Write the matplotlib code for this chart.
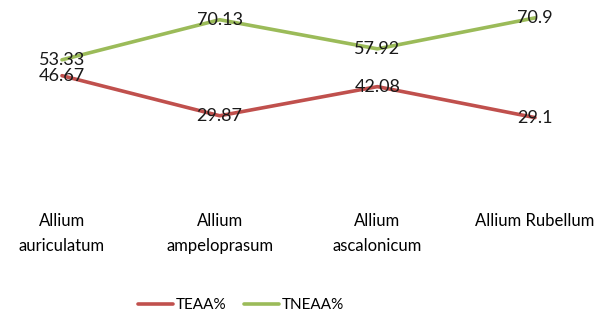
import numpy as np
import matplotlib
matplotlib.use("Agg")
import matplotlib.pyplot as plt

categories = ['Allium\nauriculatum', 'Allium\nampeloprasum', 'Allium\nascalonicum', 'Allium Rubellum']
teaa = [46.67, 29.87, 42.08, 29.1]
tneaa = [53.33, 70.13, 57.92, 70.9]
teaa_labels = ['46.67', '29.87', '42.08', '29.1']
tneaa_labels = ['53.33', '70.13', '57.92', '70.9']

plt.rcParams['font.family'] = ['Lato', 'DejaVu Sans']

fig = plt.figure(figsize=(6.05, 3.18), dpi=100)
ax = fig.add_axes([0, 1 - 187 / 318, 1, 187 / 318])

x = np.arange(len(categories))
ax.plot(x, teaa, color='#C0504D', lw=2.6, label='TEAA%', solid_capstyle='round')
ax.plot(x, tneaa, color='#9BBB59', lw=2.6, label='TNEAA%', solid_capstyle='round')

for i in range(len(x)):
    ax.text(x[i], teaa[i], teaa_labels[i], ha='center', va='center', fontsize=13, color='#1a1a1a')
    ax.text(x[i], tneaa[i], tneaa_labels[i], ha='center', va='center', fontsize=13, color='#1a1a1a')

ax.set_xlim(-62 / 157.7, 3 + 70 / 157.7)
ax.set_ylim(0, 78.4)
ax.set_xticks(x)
ax.set_xticklabels(categories, fontsize=12, linespacing=1.7)
ax.tick_params(axis='x', length=0, pad=19)
ax.set_yticks([])
for s in ax.spines.values():
    s.set_visible(False)

fig.legend(loc='center', bbox_to_anchor=(241 / 605, 1 - 305 / 318), ncol=2, frameon=False,
           fontsize=11, handlelength=2.3, handletextpad=0.15, columnspacing=1.2)

fig.savefig('out.png', dpi=100)
